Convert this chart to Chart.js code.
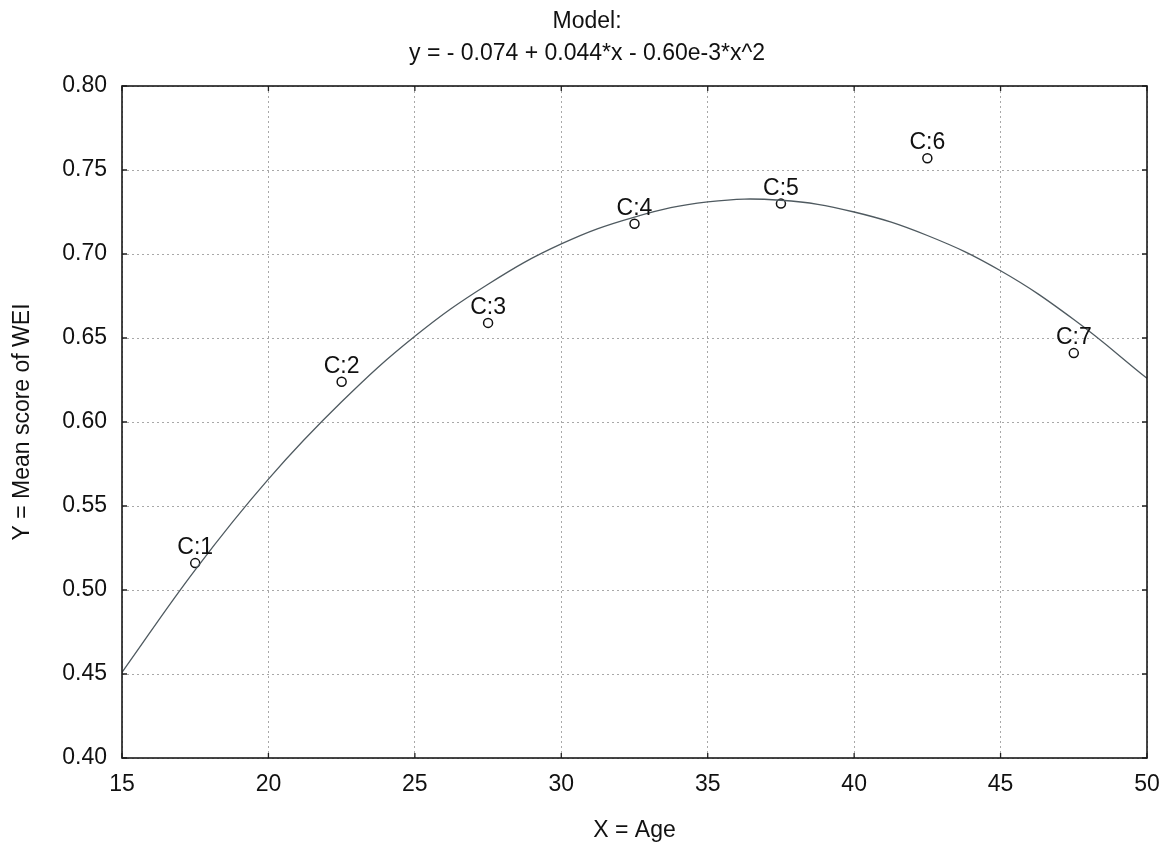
<!DOCTYPE html>
<html>
<head>
<meta charset="utf-8">
<script src="https://cdn.jsdelivr.net/npm/chart.js@4/dist/chart.umd.min.js"></script>
<style>
  html, body { margin: 0; padding: 0; background: #fff; }
  #wrap { width: 1174px; height: 848px; }
</style>
</head>
<body>
<div id="wrap"><canvas id="modelChart" width="1174" height="848"></canvas></div>
<script>
// observed group means (age class midpoint, mean WEI)
const groupNames = ['C:1', 'C:2', 'C:3', 'C:4', 'C:5', 'C:6', 'C:7'];
const groupAge = [17.5, 22.5, 27.5, 32.5, 37.5, 42.5, 47.5];
const groupWei = [0.516, 0.624, 0.659, 0.718, 0.730, 0.757, 0.641];

// fitted curve
const fitAge = [15, 17.5, 20, 22.5, 25, 27.5, 30, 32.5, 35, 37.5, 40, 42.5, 45, 47.5, 50];
const fitWei = [0.451, 0.512, 0.566, 0.612, 0.651, 0.682, 0.706, 0.722, 0.731, 0.732, 0.725, 0.711, 0.690, 0.661, 0.626];

const xTicks = [15, 20, 25, 30, 35, 40, 45, 50];
const yTicks = [0.40, 0.45, 0.50, 0.55, 0.60, 0.65, 0.70, 0.75, 0.80];

const titleLines = ['Model:', 'y = - 0.074 + 0.044*x - 0.60e-3*x^2'];

const FONT = '"Liberation Sans", Arial, sans-serif';
const FSIZE = 23;

const framePlugin = {
    id: 'frame',
    afterDraw(chart) {
        const ctx = chart.ctx;
        const a = chart.chartArea;
        const xs = chart.scales.x, ys = chart.scales.y;
        ctx.save();
        // inward tick marks
        ctx.strokeStyle = '#222';
        ctx.lineWidth = 1.3;
        ctx.beginPath();
        xTicks.forEach(v => {
            const px = xs.getPixelForValue(v);
            ctx.moveTo(px, a.bottom); ctx.lineTo(px, a.bottom - 5);
            ctx.moveTo(px, a.top); ctx.lineTo(px, a.top + 5);
        });
        yTicks.forEach(v => {
            const py = ys.getPixelForValue(v);
            ctx.moveTo(a.left, py); ctx.lineTo(a.left + 5, py);
            ctx.moveTo(a.right, py); ctx.lineTo(a.right - 5, py);
        });
        ctx.stroke();
        // box
        ctx.lineWidth = 1.6;
        ctx.strokeStyle = '#1a1a1a';
        ctx.strokeRect(a.left, a.top, a.right - a.left, a.bottom - a.top);

        // point labels
        ctx.fillStyle = '#111';
        ctx.font = FSIZE + 'px ' + FONT;
        ctx.textAlign = 'center';
        ctx.textBaseline = 'alphabetic';
        const meta = chart.getDatasetMeta(1);
        meta.data.forEach((pt, i) => {
            ctx.fillText(groupNames[i], pt.x, pt.y - 9);
        });

        // title
        ctx.textBaseline = 'middle';
        ctx.fillText(titleLines[0], chart.width / 2, 22);
        ctx.fillText(titleLines[1], chart.width / 2, 54);
        ctx.restore();
    }
};

const ctx = document.getElementById('modelChart').getContext('2d');
new Chart(ctx, {
    type: 'scatter',
    data: {
        datasets: [
            {
                label: 'fit',
                data: fitAge.map((x, i) => ({ x: x, y: fitWei[i] })),
                showLine: true,
                borderColor: '#4f5a60',
                borderWidth: 1.3,
                pointRadius: 0,
                tension: 0.4,
                fill: false
            },
            {
                label: 'groups',
                data: groupAge.map((x, i) => ({ x: x, y: groupWei[i] })),
                pointRadius: 4.5,
                pointBorderWidth: 1.5,
                borderColor: '#111',
                backgroundColor: 'rgba(255,255,255,0)',
                pointStyle: 'circle'
            }
        ]
    },
    options: {
        responsive: false,
        animation: false,
        devicePixelRatio: 1,
        layout: { padding: { top: 86, right: 27, bottom: 0, left: 0 } },
        plugins: {
            legend: { display: false },
            title: { display: false },
            tooltip: { enabled: false }
        },
        scales: {
            x: {
                type: 'linear',
                min: 15,
                max: 50,
                afterBuildTicks: s => { s.ticks = xTicks.map(v => ({ value: v })); },
                afterFit: s => { s.height = 90; },
                ticks: {
                    color: '#111',
                    font: { family: FONT, size: FSIZE },
                    padding: 13,
                    maxRotation: 0
                },
                grid: {
                    color: '#a8a8a8',
                    lineWidth: 1,
                    drawTicks: false
                },
                border: { display: false, dash: [2, 3] },
                title: {
                    display: true,
                    text: 'X = Age',
                    color: '#111',
                    font: { family: FONT, size: FSIZE },
                    padding: { top: 0, bottom: 4 }
                }
            },
            y: {
                min: 0.40,
                max: 0.80,
                afterBuildTicks: s => { s.ticks = yTicks.map(v => ({ value: v })); },
                afterFit: s => { s.width = 122; },
                ticks: {
                    color: '#111',
                    font: { family: FONT, size: FSIZE },
                    padding: 15,
                    callback: v => Number(v).toFixed(2)
                },
                grid: {
                    color: '#a8a8a8',
                    lineWidth: 1,
                    drawTicks: false
                },
                border: { display: false, dash: [2, 3] },
                title: {
                    display: true,
                    text: 'Y = Mean score of WEI',
                    color: '#111',
                    font: { family: FONT, size: FSIZE },
                    padding: { top: 9, bottom: 0 }
                }
            }
        }
    },
    plugins: [framePlugin]
});
</script>
</body>
</html>
